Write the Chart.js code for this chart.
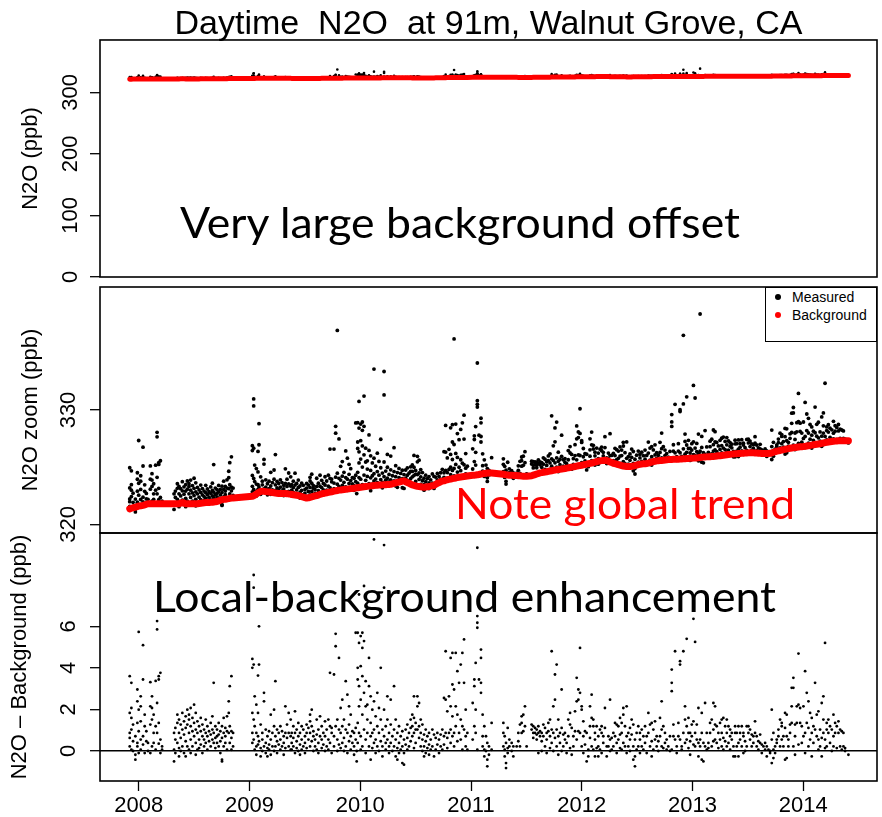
<!DOCTYPE html>
<html>
<head>
<meta charset="utf-8">
<title>Daytime N2O at 91m, Walnut Grove, CA</title>
<script src="https://cdn.jsdelivr.net/npm/chart.js@4.4.1/dist/chart.umd.min.js"></script>
<style>
  html, body { margin: 0; padding: 0; background: #fff; }
  #page { position: relative; width: 882px; height: 817px; overflow: hidden; background: #fff; }
  #page canvas { position: absolute; left: 0; }
  #c1 { top: 0; }
  #c2 { top: 280px; }
  #c3 { top: 520px; }
  #legend {
    position: absolute; left: 765px; top: 287px; width: 110px; height: 53px;
    border: 1.6px solid #000; background: #fff;
    font: 14px "Liberation Sans", Arial, sans-serif; color: #000;
  }
  #legend .item { position: absolute; left: 0; height: 18px; line-height: 18px; white-space: nowrap; }
  #legend .dot { position: absolute; left: 9px; top: 6px; width: 6px; height: 6px; border-radius: 50%; }
  #legend .txt { position: absolute; left: 26px; top: 0; }
  #notes { position: absolute; left: 0; top: 0; pointer-events: none; }
  #notes text { font-family: Lato, "Open Sans", sans-serif; font-size: 43px; }
</style>
</head>
<body>
<div id="page">
  <canvas id="c1" width="882" height="300"></canvas>
  <canvas id="c2" width="882" height="270"></canvas>
  <canvas id="c3" width="882" height="297"></canvas>
  <div id="legend"></div>
  <svg id="notes" width="882" height="817">
    <text x="180" y="238" textLength="560" lengthAdjust="spacingAndGlyphs" fill="#000">Very large background offset</text>
    <text x="455" y="519" textLength="340" lengthAdjust="spacingAndGlyphs" fill="#ff0000">Note global trend</text>
    <text x="153" y="612" textLength="623" lengthAdjust="spacingAndGlyphs" fill="#000">Local-background enhancement</text>
  </svg>
</div>
<script>
// Each row: [decimal year, background N2O (ppb), then N2O - background (ppb) for the samples at that time]
const obs2008 = [
  [2007.919, 321.35, 3.6, 1.83, 0.87, 0.22, 0.63],
  [2007.934, 321.40, 3.28, 2.07, 1.59, 1.03, 0.06],
  [2007.949, 321.45, 1.27, 0.47, 0],
  [2007.970, 321.50, -0.42, -0.18, 0.71],
  [2007.988, 321.55, 2.96, 2.39, 1.35, 0.22, 0.39],
  [2008.000, 321.60, 5.73, 1.99, 0.95, -0.1],
  [2008.018, 321.62, 2.63, 2.15, 1.43, 0.55, 0.06],
  [2008.039, 321.66, 5.09, 3.44, 0.71, 0.31],
  [2008.054, 321.70, 1.75, 1.19, -0.1],
  [2008.069, 321.75, 0.95, 0.47],
  [2008.084, 321.80, 0.39, 0],
  [2008.105, 321.80, 3.31, 2.15, 1.27, -0.1],
  [2008.120, 321.80, 2.63, 2.07, 1.51, 0.22],
  [2008.135, 321.80, 1.75, 0.87, 0.39],
  [2008.153, 321.80, 3.37, 1.19, 0.06],
  [2008.166, 321.80, 6.25, 5.85, 2.31, 0.87],
  [2008.181, 321.80, 3.6, 3.44, 1.35, 0.35],
  [2008.196, 321.80, 3.76, 0.55, -0.1],
  [2008.211, 321.80, 0.22, 0.06],
  [2008.319, 321.80, 0.87, 0.06, -0.5],
  [2008.331, 321.80, 1.11, 0.55, -0.1],
  [2008.349, 321.80, 1.75, 1.35, 0.39],
  [2008.364, 321.80, 1.51, 0.87, 0.14, -0.26],
  [2008.379, 321.85, 1.27, 0.63, 0],
  [2008.394, 321.90, 1.83, 1.03, 0.22],
  [2008.409, 321.85, 1.43, 0.79, -0.1],
  [2008.424, 321.80, 1.67, 1.11, 0.47, -0.26],
  [2008.439, 321.80, 1.99, 1.27, 0.22],
  [2008.454, 321.80, 1.75, 1.51, 0.87, 0.06],
  [2008.469, 321.80, 2.07, 1.19, 0.55, -0.1],
  [2008.485, 321.80, 1.59, 0.95, 0.22],
  [2008.500, 321.80, 2.23, 1.35, 0.71],
  [2008.515, 321.80, 1.83, 1.03, 0.39, -0.18],
  [2008.530, 321.80, 1.43, 0.87, 0.06],
  [2008.545, 321.82, 1.19, 0.55, 0.14],
  [2008.560, 321.84, 1.59, 0.95, 0.31],
  [2008.575, 321.86, 1.27, 0.71, -0.1],
  [2008.590, 321.88, 1.03, 0.55, 0.22],
  [2008.605, 321.90, 1.51, 0.87, 0.39],
  [2008.620, 321.90, 1.19, 0.71, 0.06],
  [2008.635, 321.90, 0.95, 0.47],
  [2008.650, 321.92, 1.35, 0.79, 0.22],
  [2008.665, 321.93, 1.67, 1.03, 0.55],
  [2008.677, 321.95, 3.28, 0.87, 0.39],
  [2008.692, 321.98, 1.19, 0.63, 0.14],
  [2008.707, 322.00, 1.03, 0.71, 0.39],
  [2008.722, 322.05, 1.35, 0.79, 0.22],
  [2008.737, 322.10, 0.95, 0.47, -0.1],
  [2008.752, 322.15, 1.19, 0.63, -0.42, -0.5],
  [2008.767, 322.18, 1.59, 0.87, 0.22],
  [2008.782, 322.20, 1.11, 0.71, 0.39],
  [2008.797, 322.22, 1.67, 0.95, 0.06],
  [2008.813, 322.25, 2.39, 1.83, 0.87],
  [2008.822, 322.27, 3.12, 1.19, 0.39],
  [2008.837, 322.30, 3.6, 0.95, 0.63, 0.06],
  [2008.852, 322.30, 0.87, 0.22]
];

const obs2009 = [
  [2009.026, 322.45, 4.43, 4.0, 1.83, 0.87, 0.39],
  [2009.038, 322.50, 8.47, 7.86, 4.16, 1.51, 0.55],
  [2009.047, 322.55, 2.63, 1.19, 0.06],
  [2009.062, 322.65, 2.23, 0.87, 0.22, -0.18],
  [2009.077, 322.75, 3.63, 1.83, 0.71, 0.31],
  [2009.086, 322.80, 6.0, 4.16, 0.47],
  [2009.101, 322.88, 1.27, 0.14, -0.26],
  [2009.116, 322.90, 0.87, 0.55, 0],
  [2009.131, 322.88, 2.8, 2.39, 0.22],
  [2009.147, 322.86, 1.03, 0.39, -0.1],
  [2009.162, 322.84, 0.71, 0.14, -0.26],
  [2009.177, 322.82, 0.95, 0.31, 0.06],
  [2009.192, 322.80, 1.75, 0.55, -0.18],
  [2009.207, 322.78, 0.87, 0.22],
  [2009.222, 322.76, 1.99, 1.19, 0],
  [2009.234, 322.74, 3.36, 0.71, 0.22],
  [2009.249, 322.72, 1.03, 0.47, -0.1],
  [2009.264, 322.70, 0.87, 0.31],
  [2009.279, 322.70, 1.19, 0.55, 0.06],
  [2009.294, 322.70, 0.95, 0.22],
  [2009.309, 322.70, 0.71, 0.39, -0.18],
  [2009.324, 322.70, 2.15, 0.87, 0.14],
  [2009.339, 322.68, 1.27, 0.63],
  [2009.354, 322.66, 1.83, 0.87, 0.22],
  [2009.372, 322.64, 1.51, 0.71, 0.06],
  [2009.381, 322.60, 0.87, 0.39, 0.06],
  [2009.396, 322.58, 1.19, 0.63, 0.22],
  [2009.411, 322.56, 1.91, 0.87, -0.1],
  [2009.426, 322.54, 1.03, 0.47, 0.14],
  [2009.441, 322.52, 1.35, 0.71, 0],
  [2009.456, 322.48, 0.87, 0.31, -0.18],
  [2009.471, 322.42, 1.19, 0.55, 0.06],
  [2009.486, 322.38, 1.03, 0.22],
  [2009.501, 322.34, 0.71, 0.39, -0.1],
  [2009.516, 322.30, 1.27, 0.87, 0.14],
  [2009.532, 322.32, 1.11, 0.55],
  [2009.547, 322.36, 1.75, 1.43, 0.87, 0.22],
  [2009.562, 322.40, 1.99, 1.19, 0.47],
  [2009.577, 322.44, 0.95, 0.71, 0],
  [2009.592, 322.48, 0.55, 0.22],
  [2009.607, 322.52, 1.51, 0.79, 0.06],
  [2009.622, 322.56, 1.03, 0.39, -0.1],
  [2009.637, 322.62, 1.67, 0.71],
  [2009.652, 322.66, 1.19, 0.55, 0.14],
  [2009.667, 322.70, 0.87, 0.31],
  [2009.682, 322.73, 1.43, 0.71, 0],
  [2009.697, 322.76, 1.03, 0.22],
  [2009.712, 322.79, 1.51, 0.55, 0.06],
  [2009.727, 322.82, 3.76, 1.19, 0.39],
  [2009.742, 322.85, 1.11, 0.87, -0.1],
  [2009.763, 322.90, 3.68, 0.71, 0.22],
  [2009.778, 322.93, 5.64, 5.04, 1.19],
  [2009.793, 322.96, 14.0, 1.51, 0.55, 0],
  [2009.808, 322.99, 4.48, 1.03, 0.31],
  [2009.823, 323.00, 2.07, 0.87, 0.14],
  [2009.838, 323.02, 2.47, 1.19, 0.39],
  [2009.853, 323.04, 1.51, 0.63, 0],
  [2009.869, 323.06, 3.36, 1.03, 0.22],
  [2009.884, 323.08, 2.71, 0.87, -0.1],
  [2009.899, 323.10, 2.15, 1.27, 0.47],
  [2009.914, 323.12, 1.75, 0.71, 0.06],
  [2009.929, 323.14, 0.95, 0.39],
  [2009.944, 323.16, 0.87, 0.22, -0.18],
  [2009.959, 323.18, 5.69, 1.11, 0.55],
  [2009.968, 323.19, -0.5, 0]
];

const obs2010 = [
  [2009.977, 323.20, 5.69, 4.0, 3.44, 1.35, 0.39],
  [2009.989, 323.22, 7.53, 5.2, 3.12, 2.15, 0.87],
  [2010.004, 323.24, 5.53, 4.08, 2.47, 0.71, 0.06],
  [2010.019, 323.26, 5.69, 4.96, 3.6, 1.75, 0.22],
  [2010.034, 323.28, 7.94, 5.29, 2.8, 1.03],
  [2010.049, 323.30, 3.36, 2.15, 0.55, -0.1],
  [2010.064, 323.32, 2.23, 1.51, 0.87],
  [2010.079, 323.34, 4.48, 3.12, 0.22],
  [2010.094, 323.36, 2.63, 1.35, 0.71, -0.42],
  [2010.109, 323.38, 1.99, 0.87, 0.14],
  [2010.124, 323.40, 10.18, 2.39, 1.03, 0.39],
  [2010.139, 323.41, 1.67, 0.55, -0.1],
  [2010.154, 323.42, 2.8, 1.19, 0.22],
  [2010.169, 323.43, 2.07, 0.87, 0],
  [2010.185, 323.44, 4.0, 1.51, 0.47],
  [2010.200, 323.45, 1.03, 0.22, -0.26],
  [2010.215, 323.46, 9.91, 7.86, 1.99, 0.71],
  [2010.230, 323.47, 1.19, 0.39, 0.06],
  [2010.245, 323.48, 2.63, 1.51, 0.55],
  [2010.260, 323.49, 0.87, 0.22, -0.1],
  [2010.275, 323.50, 2.47, 1.27, 0.39],
  [2010.290, 323.54, 0.71, 0],
  [2010.305, 323.58, 3.12, 1.03, 0.22],
  [2010.320, 323.62, 1.51, 0.55, -0.26],
  [2010.335, 323.66, 0.87, 0.14, -0.42],
  [2010.350, 323.70, 1.19, 0.39, -0.1],
  [2010.365, 323.74, 0.71, 0.06],
  [2010.380, 323.78, 0.95, 0.22, -0.58],
  [2010.395, 323.80, 0.55, -0.1, -0.66],
  [2010.410, 323.72, 1.03, 0.31],
  [2010.425, 323.66, 1.27, 0.63, 0.06],
  [2010.440, 323.60, 0.87, 0.22],
  [2010.455, 323.52, 1.51, 1.11, 0.47],
  [2010.470, 323.44, 1.75, 1.19, 0.71],
  [2010.485, 323.40, 2.63, 1.59, 0.87, 0.14],
  [2010.500, 323.36, 1.35, 1.03, 0.39],
  [2010.516, 323.32, 2.63, 2.15, 1.03],
  [2010.531, 323.30, 2.31, 1.19, 0.63],
  [2010.546, 323.28, 1.51, 0.87, 0.22],
  [2010.561, 323.26, 1.27, 0.55, 0],
  [2010.576, 323.25, 0.79, 0.22, -0.26],
  [2010.591, 323.27, 1.03, 0.47, -0.1],
  [2010.606, 323.29, 0.71, 0.14],
  [2010.621, 323.31, 0.87, 0.31, -0.18],
  [2010.636, 323.34, 0.55, 0.06],
  [2010.651, 323.38, 1.03, 0.22],
  [2010.666, 323.40, 0.79, -0.26],
  [2010.681, 323.50, 0.63, 0.06],
  [2010.696, 323.58, 0.87, 0.31],
  [2010.711, 323.65, 0.55, -0.1],
  [2010.726, 323.72, 0.79, 0.22],
  [2010.741, 323.78, 1.03, 0.06],
  [2010.756, 323.80, 2.55, 0.71, 0.31],
  [2010.771, 323.85, 4.8, 2.47, 0.87],
  [2010.786, 323.90, 1.91, 0.63, 0.14],
  [2010.801, 323.93, 2.63, 0.87],
  [2010.816, 323.96, 4.48, 2.15, 1.03, 0.39],
  [2010.832, 324.00, 4.72, 3.2, 1.67, 0.71],
  [2010.847, 324.02, 12.2, 2.96, 0.87, 0.22],
  [2010.862, 324.05, 4.72, 2.15, 1.19],
  [2010.877, 324.10, 3.84, 1.75, 0.47],
  [2010.892, 324.12, 3.28, 0.87],
  [2010.907, 324.14, 4.16, 1.51, 0.55],
  [2010.922, 324.16, 4.72, 1.19, 0.06],
  [2010.937, 324.18, 5.37, 3.28, 1.03],
  [2010.952, 324.20, 1.99, 0.71, 0.22],
  [2010.967, 324.22, 0.87, 0.06]
];

const obs2011 = [
  [2011.015, 324.29, 2.31, 0.55],
  [2011.030, 324.30, 3.12, 3.44, 1.19],
  [2011.042, 324.31, 4.24, 1.99, 0.87],
  [2011.057, 324.33, 9.78, 6.17, 6.49, 5.93, 0.06],
  [2011.072, 324.36, 3.44],
  [2011.090, 324.40, 4.88, 4.48, 3.28, 2.8],
  [2011.105, 324.42, 1.75, 0.71, 0.22],
  [2011.120, 324.45, 1.19, 0.06, -0.26],
  [2011.135, 324.47, 0.71, 0],
  [2011.147, 324.49, 0.39, -0.42, -0.74],
  [2011.162, 324.50, 0.22, -0.18],
  [2011.186, 324.48, 1.35, 0.06],
  [2011.292, 324.38, 1.35, 0.87, 0.22],
  [2011.304, 324.36, 0.71, 0.06, -0.26],
  [2011.316, 324.34, 0.39, -0.58, -0.82],
  [2011.331, 324.32, 1.11, 0.14, -0.1],
  [2011.346, 324.30, 0.55, 0.22],
  [2011.367, 324.30, 0.39, 0],
  [2011.382, 324.28, 0.22, -0.26],
  [2011.412, 324.26, 0.22],
  [2011.427, 324.25, 0.87, 0.47],
  [2011.442, 324.24, 1.27, 0.22],
  [2011.457, 324.22, 1.67, 1.35, 0.87],
  [2011.472, 324.21, 1.75, 0.95],
  [2011.487, 324.20, 2.15, 1.19],
  [2011.502, 324.20, 0.22],
  [2011.547, 324.25, 1.27, 1.03],
  [2011.562, 324.30, 1.19, 0.87, 0.63],
  [2011.578, 324.35, 1.11, 0.87],
  [2011.593, 324.40, 1.03, 0.79, 0.55],
  [2011.608, 324.45, 1.19, 0.87, -0.1],
  [2011.623, 324.50, 0.95, 0.71],
  [2011.638, 324.52, 0.87, 0.47, 0],
  [2011.653, 324.55, 1.27, 0.71],
  [2011.668, 324.58, 1.11, 0.22],
  [2011.683, 324.60, 0.87, 0.55, -0.1],
  [2011.698, 324.63, 1.35, 0.95],
  [2011.713, 324.66, 1.51, 0.71, 0.14],
  [2011.728, 324.69, 4.8, 1.03, 0.39],
  [2011.743, 324.72, 2.15, 0.87, 0],
  [2011.758, 324.75, 3.68, 2.47, 0.63],
  [2011.773, 324.78, 4.16, 1.03, 0.22],
  [2011.788, 324.80, 1.51, 0.71, -0.18],
  [2011.803, 324.82, 0.87, 0.39],
  [2011.818, 324.84, 2.96, 1.11, 0],
  [2011.833, 324.86, 0.79, 0.22],
  [2011.848, 324.88, 0.87, 0.55],
  [2011.863, 324.91, 0.39, -0.1],
  [2011.878, 324.94, 1.51, 0.71],
  [2011.894, 324.97, 1.83, 1.27, 0.14],
  [2011.909, 325.00, 1.11, -0.18],
  [2011.924, 325.03, 0.71, 0.22],
  [2011.939, 325.06, 1.91, 0.95],
  [2011.954, 325.09, 3.52, 2.39, 0.55],
  [2011.969, 325.12, 2.96, 2.47, 0.95],
  [2011.984, 325.15, 4.96, 2.8, 0.87],
  [2011.999, 325.17, 1.99, 2.15, 0.22]
];

const obs2012 = [
  [2012.014, 325.20, 1.43, 0.71, -0.1],
  [2012.029, 325.23, 0.95, 0.31],
  [2012.044, 325.26, 0.87, -0.5],
  [2012.059, 325.30, 0.06, -0.26],
  [2012.074, 325.33, 2.15, 1.19, 0.63],
  [2012.089, 325.36, 2.71, 1.59, 0.22],
  [2012.104, 325.40, 1.51, 1.19, 0.06],
  [2012.119, 325.44, 0.87, 0.55, -0.26],
  [2012.134, 325.48, 1.19, 0.14],
  [2012.149, 325.52, 0.71, 0.22, -0.26],
  [2012.164, 325.55, 1.03, 0.06],
  [2012.179, 325.57, 1.19, 0.87, -0.1],
  [2012.194, 325.59, 0.71, 0.39],
  [2012.209, 325.60, 2.07, 1.11],
  [2012.225, 325.58, 0.22, -0.26],
  [2012.240, 325.52, 0.71, 0.22],
  [2012.255, 325.46, 2.47, 0.55, 0],
  [2012.270, 325.40, 0.63, 0.06],
  [2012.285, 325.34, 0.87, 0.22],
  [2012.300, 325.30, 1.35, 0.71],
  [2012.315, 325.26, 1.27, 0.39, -0.1],
  [2012.330, 325.22, 1.19, 0.55],
  [2012.345, 325.18, 1.59, 0.79, 0.14],
  [2012.360, 325.14, 1.35, 0.87, 0.06],
  [2012.375, 325.10, 1.75, 2.07, 0.39],
  [2012.390, 325.08, 1.19, 0.22],
  [2012.405, 325.06, 2.15, 0.71, -0.1],
  [2012.420, 325.05, 0.87, 0.22],
  [2012.435, 325.05, 1.11, 0.55, 0],
  [2012.450, 325.07, 1.51, 0.79],
  [2012.465, 325.10, 1.27, 0.22, -0.42],
  [2012.480, 325.14, 0.55, -0.26, -0.74],
  [2012.495, 325.18, 0.87, 0.06],
  [2012.510, 325.22, 1.19, 0.22],
  [2012.525, 325.26, 0.87, 0.55, -0.1],
  [2012.541, 325.28, 1.03, 0.22],
  [2012.556, 325.29, 0.71, 0.06],
  [2012.571, 325.30, 1.19, 0.39],
  [2012.586, 325.32, 0.71, -0.1],
  [2012.601, 325.36, 1.83, 0.87],
  [2012.616, 325.40, 1.27, 0.22],
  [2012.631, 325.44, 1.35, 0.47, -0.26],
  [2012.646, 325.48, 1.03, 0.06],
  [2012.661, 325.52, 1.43, 0.55],
  [2012.676, 325.55, 0.71, 0.22],
  [2012.691, 325.57, 0.47, 0],
  [2012.706, 325.58, 1.59, 0.71],
  [2012.721, 325.59, 2.39, 1.03, 0.22],
  [2012.736, 325.60, 1.19, 0.14],
  [2012.751, 325.62, 0.87, 0.39],
  [2012.766, 325.64, 0.55, 0.06],
  [2012.781, 325.66, 0.22],
  [2012.796, 325.67, 0.71, 0],
  [2012.812, 325.68, 3.28, 2.88, 3.92, 0.06],
  [2012.827, 325.69, 1.27, 0.71],
  [2012.842, 325.70, 4.8, 0.55],
  [2012.857, 325.70, 0.22, -0.1],
  [2012.872, 325.70, 1.35, 0.71],
  [2012.887, 325.71, 4.32, 4.16, 0.55],
  [2012.902, 325.72, 0.22, 0.06],
  [2012.917, 325.73, 10.8, 4.8, 0.87],
  [2012.932, 325.74, 2.15, 1.51, 0.39],
  [2012.947, 325.75, 5.4, 1.19, 0.55],
  [2012.963, 325.76, 1.59, 0.87, 0.14],
  [2012.978, 325.77, 0.87, 0.47, -0.18],
  [2012.993, 325.78, 1.27, 0.71]
];

const obs2013 = [
  [2013.008, 325.79, 6.36, 1.43, 0.31],
  [2013.023, 325.80, 5.25, 0.87, 0.22],
  [2013.038, 325.81, 1.27, 0.55],
  [2013.053, 325.82, 2.07, 0.39, -0.26],
  [2013.068, 325.84, 12.56, 0.55, 0.22],
  [2013.083, 325.86, 1.83, 0.87, -0.42],
  [2013.098, 325.88, 0.39, -0.5],
  [2013.113, 325.89, 2.31, 0.22],
  [2013.128, 325.90, 0.87, 0.06],
  [2013.143, 325.91, 0.39, 0.14],
  [2013.158, 325.92, 1.35, 0.87],
  [2013.173, 325.93, 1.51, 0.22],
  [2013.188, 325.94, 2.31, 1.03, 0.47],
  [2013.203, 325.95, 2.15, 1.27, 0.55],
  [2013.218, 325.97, 1.19, 0.39],
  [2013.233, 325.99, 0.87, 0.14],
  [2013.248, 326.00, 1.35, 0.55],
  [2013.263, 326.02, 1.51, 0.87, 0.22],
  [2013.278, 326.04, 1.59, 0.63, 0.06],
  [2013.294, 326.06, 1.19, 0.47],
  [2013.309, 326.08, 1.51, 0.87, 0.22],
  [2013.324, 326.10, 1.19, 0.39],
  [2013.339, 326.12, 1.03, 0.71, 0.06],
  [2013.354, 326.14, 0.87, 0.55],
  [2013.369, 326.16, 0.22, -0.26],
  [2013.384, 326.17, 1.19, 0.87, -0.26],
  [2013.399, 326.18, 0.87, 0.22],
  [2013.414, 326.19, 1.19, 0.39, -0.26],
  [2013.429, 326.20, 0.87, 0.55],
  [2013.444, 326.21, 1.19, 0.22],
  [2013.459, 326.22, 0.87, 0.71, -0.1],
  [2013.474, 326.23, 0.47, 0],
  [2013.489, 326.24, 1.19, 0.22],
  [2013.504, 326.25, 1.19, 0.87],
  [2013.519, 326.25, 1.03, 0.55],
  [2013.534, 326.25, 0.79, 0.22],
  [2013.549, 326.25, 0.71, 0.39],
  [2013.564, 326.24, 1.43, 0.87],
  [2013.579, 326.23, 0.71, 0.22],
  [2013.594, 326.22, 0.47, 0.06],
  [2013.610, 326.21, 0.79, 0.39],
  [2013.625, 326.20, 0.31, -0.1],
  [2013.640, 326.20, 0.22],
  [2013.655, 326.20, 0.39, 0.06],
  [2013.670, 326.20, 0.22, -0.26],
  [2013.685, 326.20, 0.06],
  [2013.700, 326.21, 0, -0.1],
  [2013.715, 326.25, 1.99, 0.55, -0.58],
  [2013.730, 326.30, 0.87, 0.06, -0.34],
  [2013.745, 326.35, 0.22, -0.1],
  [2013.760, 326.40, 0.55, 0.39],
  [2013.775, 326.43, 1.03, 0.71],
  [2013.790, 326.46, 1.51, 0.22],
  [2013.805, 326.50, 1.35, 1.19, 0.55],
  [2013.820, 326.53, 0.71, 0.22],
  [2013.835, 326.56, 1.83, 1.11, -0.42],
  [2013.850, 326.60, 1.75, 0.71, -0.34],
  [2013.865, 326.62, 0.55, 0.22],
  [2013.880, 326.65, 1.27, 0.87],
  [2013.895, 326.68, 3.04, 2.15, 1.35],
  [2013.910, 326.70, 3.52, 3.04, 0.22],
  [2013.925, 326.72, 1.27, 0.71, -0.18],
  [2013.941, 326.74, 2.15, 1.35],
  [2013.956, 326.76, 4.69, 2.23, 0.31],
  [2013.971, 326.78, 2.07, 1.35],
  [2013.986, 326.79, 1.19, 0.39]
];

const obs2014 = [
  [2014.001, 326.80, 2.15, 0.71],
  [2014.016, 326.82, 3.84, 0.87, -0.1],
  [2014.031, 326.85, 2.8, 1.35],
  [2014.046, 326.88, 2.39, 1.11, 0.22],
  [2014.061, 326.90, 1.83, 0.55],
  [2014.076, 326.93, 1.59, 0.87, -0.26],
  [2014.091, 326.96, 1.19, 0.39],
  [2014.106, 326.98, 3.28, 1.03],
  [2014.121, 327.00, 1.75, 0.71],
  [2014.136, 327.02, 1.91, 0.55, 0.06],
  [2014.151, 327.05, 1.03, 0.22],
  [2014.166, 327.08, 2.31, 0.63, -0.26],
  [2014.181, 327.11, 2.63, 1.51, 0.87],
  [2014.196, 327.14, 5.2, 0.55, 0.14],
  [2014.211, 327.17, 1.35, 1.03, 0.22],
  [2014.226, 327.20, 1.51, 0.87],
  [2014.241, 327.22, 1.19, 0.39],
  [2014.257, 327.24, 1.03, 0],
  [2014.272, 327.26, 1.75, 0.71, 0.22],
  [2014.287, 327.28, 1.35, 0.87],
  [2014.302, 327.29, 1.19, 0.14],
  [2014.317, 327.30, 1.43, 0.87],
  [2014.332, 327.30, 1.03, 0.22],
  [2014.347, 327.30, 0.95, 0.06],
  [2014.362, 327.30, 0.87, 0.22],
  [2014.377, 327.30, 0.14, 0],
  [2014.407, 327.30, -0.18]
];

// Axis ticks
const yearTicks = [2008, 2009, 2010, 2011, 2012, 2013, 2014];
const fullTicks = [0, 100, 200, 300];
const zoomTicks = [320, 330];
const excessTicks = [0, 2, 4, 6];

const seriesNames = ['Measured', 'Background'];
const seriesColors = ['#000000', '#ff0000'];

// ---- assemble point lists ----
const measuredPts = [];
const excessPts = [];
const backgroundPts = [];
[obs2008, obs2009, obs2010, obs2011, obs2012, obs2013, obs2014].forEach(season => {
  season.forEach(row => {
    const [year, bg, ...excess] = row;
    backgroundPts.push({ x: year, y: bg });
    excess.forEach(e => {
      measuredPts.push({ x: year, y: Math.round((bg + e) * 100) / 100 });
      excessPts.push({ x: year, y: e });
    });
  });
});

const FONT = '"Liberation Sans", Arial, Helvetica, sans-serif';
Chart.defaults.font.family = FONT;
Chart.defaults.color = '#000';

const X_MIN = 2007.6506;
const X_MAX = 2014.665;
const PLOT_LEFT = 100;

// black frame round the plotting region
const framePlugin = {
  id: 'frame',
  afterDraw(chart) {
    const { ctx, chartArea: a } = chart;
    ctx.save();
    ctx.strokeStyle = '#000';
    ctx.lineWidth = 1.6;
    ctx.strokeRect(a.left, a.top, a.right - a.left, a.bottom - a.top);
    ctx.restore();
  }
};

// the axes must not ask for extra room round the plot
function noEdgePadding(s) {
  s.paddingTop = 0; s.paddingBottom = 0; s.paddingLeft = 0; s.paddingRight = 0;
}

function yAxis(min, max, tickValues, title, tickPad, titlePad, zeroLine) {
  return {
    type: 'linear', position: 'left', min, max,
    afterBuildTicks: s => { s.ticks = tickValues.map(v => ({ value: v })); },
    afterFit: s => { s.width = PLOT_LEFT; noEdgePadding(s); },
    border: { display: false },
    grid: {
      drawOnChartArea: zeroLine,
      color: c => (c.tick && c.tick.value === 0) ? '#000' : 'rgba(0,0,0,0)',
      lineWidth: 1.4,
      drawTicks: true, tickLength: 10, tickColor: '#000', tickWidth: 1.3
    },
    ticks: {
      minRotation: 90, maxRotation: 90, crossAlign: 'center',
      padding: tickPad, color: '#000', font: { size: 22 },
      callback: v => String(v)
    },
    title: {
      display: true, text: title, color: '#000',
      font: { size: 22 }, padding: { top: titlePad, bottom: 0 }
    }
  };
}

const hiddenX = { type: 'linear', min: X_MIN, max: X_MAX, display: false, afterFit: noEdgePadding };

function measuredSet(data, radius) {
  return {
    label: seriesNames[0], data, showLine: false, order: 1,
    pointRadius: radius, pointHoverRadius: radius,
    pointBackgroundColor: seriesColors[0], pointBorderWidth: 0
  };
}
function backgroundSet(width) {
  return {
    label: seriesNames[1], data: backgroundPts, showLine: true, order: 0,
    borderColor: seriesColors[1], borderWidth: width,
    borderJoinStyle: 'round', borderCapStyle: 'round',
    pointRadius: 0, pointHoverRadius: 0, tension: 0
  };
}

const common = {
  responsive: false, animation: false, events: [],
};

// Panel 1: full-scale N2O
new Chart(document.getElementById('c1'), {
  type: 'scatter',
  data: { datasets: [measuredSet(measuredPts, 1.3), backgroundSet(5)] },
  options: Object.assign({}, common, {
    layout: { autoPadding: false, padding: { left: 0, right: 5, top: 0, bottom: 23 } },
    scales: { x: hiddenX, y: yAxis(0, 385, fullTicks, 'N2O (ppb)', 1, 18, false) },
    plugins: {
      legend: { display: false }, tooltip: { enabled: false },
      title: {
        display: true, text: 'Daytime  N2O  at 91m, Walnut Grove, CA',
        fullSize: false, color: '#000',
        font: { size: 34, weight: 'normal', lineHeight: 0.92 },
        padding: { top: 8.7, bottom: 0 }
      }
    }
  }),
  plugins: [framePlugin]
});

// Panel 2: zoomed N2O
const zoomChart = new Chart(document.getElementById('c2'), {
  type: 'scatter',
  data: { datasets: [measuredSet(measuredPts, 1.9), backgroundSet(7)] },
  options: Object.assign({}, common, {
    layout: { autoPadding: false, padding: { left: 0, right: 5, top: 7, bottom: 17 } },
    scales: { x: hiddenX, y: yAxis(319.24, 340.76, zoomTicks, 'N2O zoom (ppb)', 3, 18, false) },
    plugins: { legend: { display: false }, tooltip: { enabled: false } }
  }),
  plugins: [framePlugin]
});

// Panel 3: enhancement over background
new Chart(document.getElementById('c3'), {
  type: 'scatter',
  data: { datasets: [{
    label: 'N2O - Background', data: excessPts, showLine: false,
    pointRadius: 1.4, pointHoverRadius: 1.4,
    pointBackgroundColor: '#000', pointBorderWidth: 0
  }] },
  options: Object.assign({}, common, {
    layout: { autoPadding: false, padding: { left: 0, right: 5, top: 13, bottom: 0 } },
    scales: {
      x: {
        type: 'linear', position: 'bottom', min: X_MIN, max: X_MAX,
        afterBuildTicks: s => { s.ticks = yearTicks.map(v => ({ value: v })); },
        afterFit: s => { s.height = 36; noEdgePadding(s); },
        border: { display: false },
        grid: { drawOnChartArea: false, drawTicks: true, tickLength: 10, tickColor: '#000', tickWidth: 1.3 },
        ticks: { minRotation: 0, maxRotation: 0, autoSkip: false, padding: 2, color: '#000',
                 font: { size: 22 }, callback: v => String(v) }
      },
      y: yAxis(-1.444, 10.49, excessTicks, 'N2O \u2013 Background (ppb)', 15, 7, true)
    },
    plugins: { legend: { display: false }, tooltip: { enabled: false } }
  }),
  plugins: [framePlugin]
});

// Legend box for the zoom panel, built from its datasets
(function buildLegend() {
  const box = document.getElementById('legend');
  const sets = zoomChart.data.datasets.slice().sort((a, b) => seriesNames.indexOf(a.label) - seriesNames.indexOf(b.label));
  sets.forEach((ds, i) => {
    const item = document.createElement('div');
    item.className = 'item';
    item.style.top = (i * 18) + 'px';
    const dot = document.createElement('span');
    dot.className = 'dot';
    dot.style.background = ds.pointBackgroundColor || ds.borderColor;
    const txt = document.createElement('span');
    txt.className = 'txt';
    txt.textContent = ds.label;
    item.appendChild(dot);
    item.appendChild(txt);
    box.appendChild(item);
  });
})();
</script>
</body>
</html>
